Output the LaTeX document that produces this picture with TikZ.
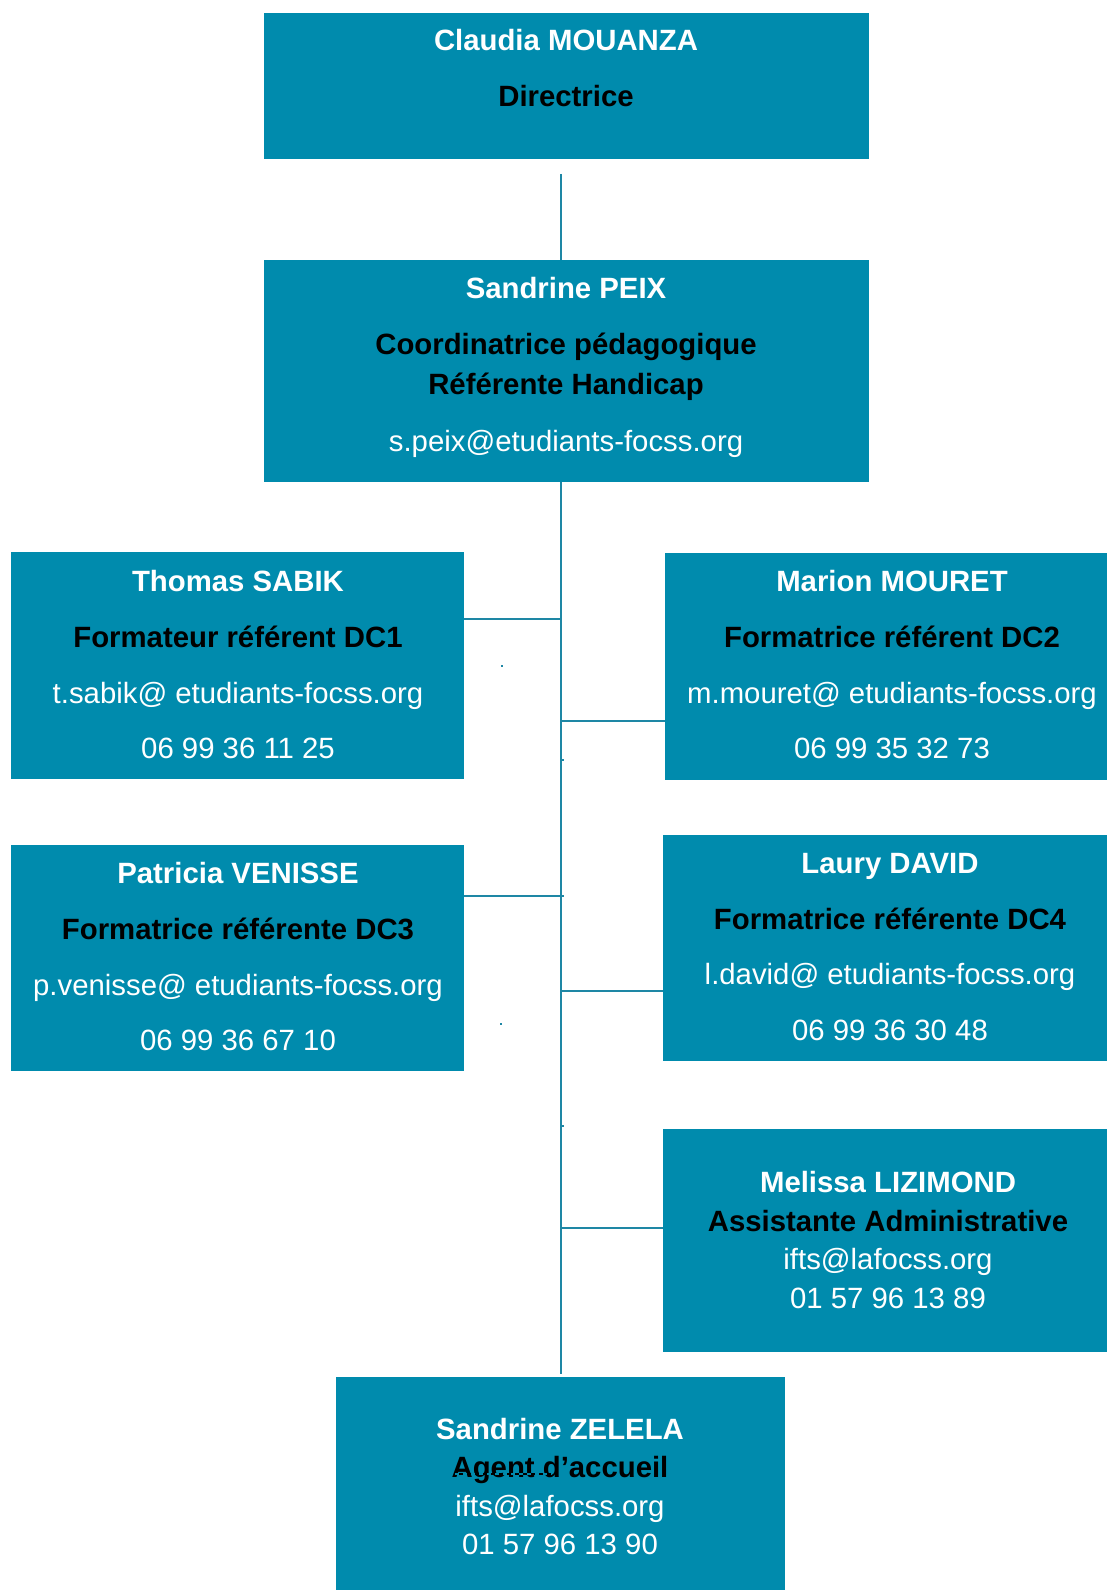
\documentclass[tikz,border=0pt]{standalone}
\usepackage{fontspec}
\setmainfont{Liberation Sans}
\usetikzlibrary{fit}
\definecolor{teal1}{RGB}{0,139,173}
\definecolor{lineteal}{RGB}{30,135,165}
\begin{document}
\begin{tikzpicture}[x=0.75pt,y=-0.75pt,
  box/.style={fill=teal1, draw=none, inner sep=0pt, rectangle},
  conn/.style={draw=lineteal, line width=1.2pt},
  nm/.style={text=white, font=\fontsize{22}{26}\selectfont\bfseries, anchor=base, inner sep=0pt},
  rl/.style={text=black, font=\fontsize{22}{26}\selectfont\bfseries, anchor=base, inner sep=0pt},
  ml/.style={text=white, font=\fontsize{22}{26}\selectfont, anchor=base, inner sep=0pt},
  speck/.style={fill=lineteal, draw=none, inner sep=0pt, minimum size=1.8pt, rectangle}]
\useasboundingbox (0,0) rectangle (1107,1590);

% boxes
\node[box, fit={(264,13)(869,159)}] (b1) {};
\node[box, fit={(264,260)(869,482)}] (b2) {};
\node[box, fit={(11,552)(464,779)}] (b3) {};
\node[box, fit={(665,553)(1107,780)}] (b4) {};
\node[box, fit={(11,845)(464,1071)}] (b5) {};
\node[box, fit={(663,835)(1107,1061)}] (b6) {};
\node[box, fit={(663,1129)(1107,1352)}] (b7) {};
\node[box, fit={(336,1377)(785,1590)}] (b8) {};

% connectors
\coordinate (c1) at (561,174);
\coordinate (c2) at (561,482);
\coordinate (c8) at (561,1374);
\coordinate (j3) at (561,619);
\coordinate (j4) at (561,721);
\coordinate (j5) at (561,896);
\coordinate (j6) at (561,991);
\coordinate (j7) at (561,1228);
\draw[conn] (c1) -- (c1 |- b2.north);
\draw[conn] (c2) -- (c8);
\draw[conn] (j3 -| b3.east) -- (j3);
\draw[conn] (j4) -- (j4 -| b4.west);
\draw[conn] (j5 -| b5.east) -- ([xshift=2pt]j5);
\draw[conn] (j6) -- (j6 -| b6.west);
\draw[conn] (j7) -- (j7 -| b7.west);

% specks
\node[speck] (s1) at (502,666) {};
\node[speck] (s2) at (563,760) {};
\node[speck] (s3) at (501,1024) {};
\node[speck] (s4) at (563,1126) {};

% texts
\node[nm] (t11) at (566,51) {Claudia MOUANZA};
\node[rl] (t12) at (566,107) {Directrice};

\node[nm] (t21) at (566,299) {Sandrine PEIX};
\node[rl] (t22) at (566,355) {Coordinatrice pédagogique};
\node[rl] (t23) at (566,394) {Référente Handicap};
\node[ml] (t24) at (566,451) {s.peix@etudiants-focss.org};

\node[nm] (t31) at (238,591) {Thomas SABIK};
\node[rl] (t32) at (238,647) {Formateur référent DC1};
\node[ml] (t33) at (238,703) {t.sabik@ etudiants-focss.org};
\node[ml] (t34) at (238,758) {06 99 36 11 25};

\node[nm] (t41) at (892,591) {Marion MOURET};
\node[rl] (t42) at (892,647) {Formatrice référent DC2};
\node[ml] (t43) at (892,703) {m.mouret@ etudiants-focss.org};
\node[ml] (t44) at (892,758) {06 99 35 32 73};

\node[nm] (t51) at (238,883) {Patricia VENISSE};
\node[rl] (t52) at (238,939) {Formatrice référente DC3};
\node[ml] (t53) at (238,995) {p.venisse@ etudiants-focss.org};
\node[ml] (t54) at (238,1050) {06 99 36 67 10};

\node[nm] (t61) at (890,873) {Laury DAVID};
\node[rl] (t62) at (890,929) {Formatrice référente DC4};
\node[ml] (t63) at (890,984) {l.david@ etudiants-focss.org};
\node[ml] (t64) at (890,1040) {06 99 36 30 48};

\node[nm] (t71) at (888,1192) {Melissa LIZIMOND};
\node[rl] (t72) at (888,1231) {Assistante Administrative};
\node[ml] (t73) at (888,1269) {ifts@lafocss.org};
\node[ml] (t74) at (888,1308) {01 57 96 13 89};

\node[nm] (t81) at (560,1439) {Sandrine ZELELA};
\node[rl] (t82) at (560,1477) {Agent d’accueil};
\node[ml] (t83) at (560,1516) {ifts@lafocss.org};
\node[ml] (t84) at (560,1554) {01 57 96 13 90};
\coordinate (d1) at (455,1474);
\coordinate (d2) at (552,1474);
\draw[draw=black, line width=0.9pt] (d1) -- (d2);
\draw[draw=teal1, line width=1pt, dash pattern=on 3pt off 3pt] (d1) -- (d2);
\end{tikzpicture}
\end{document}
